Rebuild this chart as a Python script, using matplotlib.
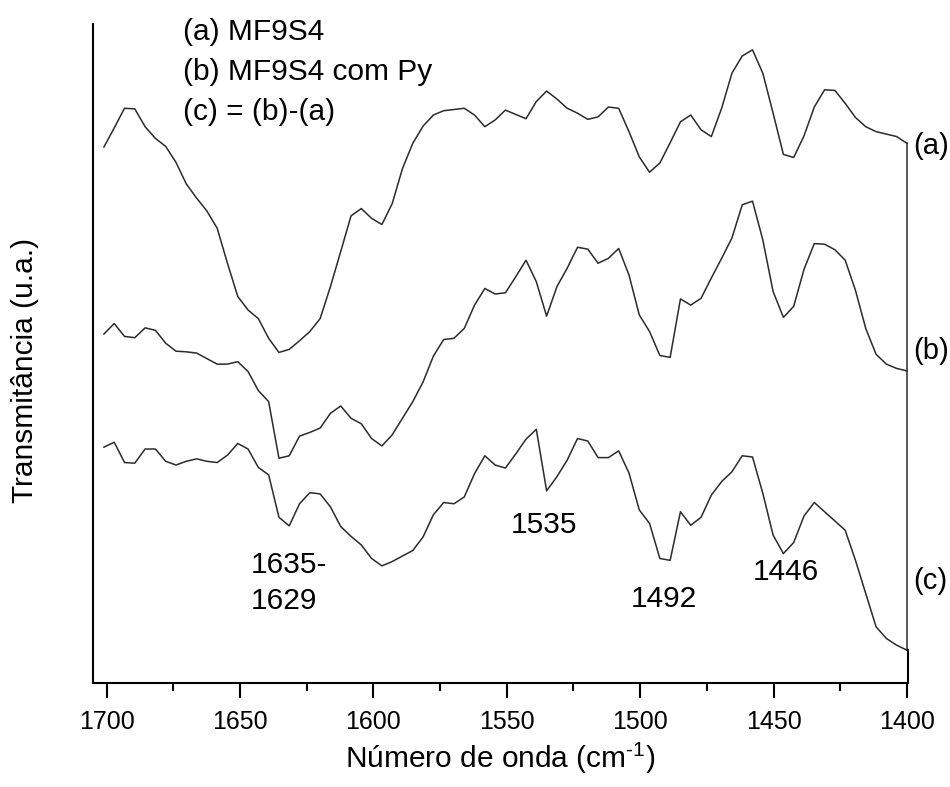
import numpy as np
import matplotlib
matplotlib.use("Agg")
import matplotlib.pyplot as plt

plt.rcParams['font.family'] = ['Liberation Sans', 'DejaVu Sans']
plt.rcParams['mathtext.fontset'] = 'custom'
plt.rcParams['mathtext.rm'] = 'Liberation Sans'
plt.rcParams['mathtext.default'] = 'regular'

# wavenumber grid of the spectra (cm-1), high to low
wn = np.linspace(1701, 1400, 79)

# (a) MF9S4
trans_a = [82.6, 85.7, 88.9, 88.8, 85.9, 84.0, 82.7, 80.1, 76.6, 74.3,
           72.2, 69.4, 63.7, 58.3, 56.1, 54.7, 51.5, 49.2, 49.7, 51.1,
           52.6, 54.7, 59.9, 65.6, 71.4, 72.6, 71.0, 70.0, 73.4, 79.1,
           83.2, 86.0, 87.8, 88.5, 88.7, 88.9, 87.8, 85.9, 87.0, 88.6,
           87.9, 87.2, 90.0, 91.7, 90.4, 88.9, 88.1, 87.1, 87.5, 89.1,
           88.9, 85.1, 81.0, 78.5, 80.0, 83.3, 86.7, 87.8, 85.4, 84.3,
           88.9, 94.6, 97.4, 98.4, 94.6, 88.1, 81.4, 80.9, 84.4, 89.1,
           91.9, 91.8, 89.7, 87.4, 85.9, 85.1, 84.7, 84.3, 83.2]

# (b) MF9S4 com Py
trans_b = [52.2, 53.9, 51.8, 51.6, 53.2, 52.8, 50.7, 49.4, 49.3, 49.1,
           48.2, 47.3, 47.3, 47.7, 46.1, 43.0, 41.2, 32.0, 32.4, 35.6,
           36.2, 36.9, 39.3, 40.5, 38.5, 37.6, 35.2, 34.0, 35.8, 38.5,
           41.2, 44.4, 48.6, 51.3, 51.5, 53.1, 56.9, 59.6, 58.7, 58.9,
           61.5, 64.2, 60.7, 55.1, 59.9, 62.9, 66.3, 66.0, 63.7, 64.5,
           66.1, 61.8, 55.3, 52.6, 48.7, 48.4, 57.9, 56.9, 58.0, 61.3,
           64.5, 67.8, 73.2, 73.8, 67.5, 59.1, 54.9, 56.7, 62.7, 66.9,
           66.8, 65.9, 64.2, 59.3, 53.1, 48.9, 47.3, 46.6, 46.2]

# (c) = (b)-(a)
trans_c = [33.8, 34.6, 31.3, 31.2, 33.5, 33.5, 31.5, 30.9, 31.5, 31.9,
           31.5, 31.3, 32.5, 34.4, 33.5, 30.5, 29.3, 22.4, 21.0, 24.6,
           26.4, 26.2, 24.1, 20.9, 19.3, 17.9, 15.7, 14.5, 15.2, 16.1,
           17.0, 19.2, 22.8, 24.8, 24.6, 25.7, 29.5, 32.4, 30.9, 30.4,
           32.7, 35.1, 36.7, 26.7, 29.0, 31.7, 35.2, 34.8, 32.1, 32.1,
           33.2, 29.6, 23.6, 21.4, 15.7, 15.4, 23.3, 21.1, 22.4, 26.0,
           28.2, 29.8, 32.4, 32.2, 26.3, 19.5, 16.5, 18.3, 22.6, 24.8,
           23.3, 21.8, 20.3, 15.4, 10.0, 4.6, 2.7, 1.6, 0.8]

legend_lines = ["(a) MF9S4", "(b) MF9S4 com Py", "(c) = (b)-(a)"]
curve_tags = ["(a)", "(b)", "(c)"]
tag_y = [82.8, 49.4, 12.0]

# band labels: text, wavenumber, height
band_text = ["1535", "1492", "1446"]
band_x = [1536.2, 1491.2, 1445.5]
band_y = [19.8, 7.8, 12.2]

fig = plt.figure(figsize=(9.5, 7.87), dpi=100)
ax = fig.add_axes([0.0976, 0.1321, 0.8582, 0.8374])

line_col = '#2b2b2b'
for tr in (trans_a, trans_b, trans_c):
    ax.plot(wn, tr, color=line_col, lw=1.1)
# closing line at the low-wavenumber end
ax.plot([wn[-1], wn[-1]], [trans_c[-1], trans_a[-1]], color=line_col, lw=1.1)

ax.set_xlim(1705.2, 1399.6)
ax.set_ylim(-4.55, 102.6)

ax.spines['top'].set_visible(False)
ax.spines['right'].set_bounds(-4.55, trans_c[-1])
for s in ('left', 'bottom', 'right'):
    ax.spines[s].set_linewidth(1.5)

ax.set_xticks(np.arange(1700, 1399, -50))
ax.set_xticks(np.arange(1675, 1400, -50), minor=True)
ax.set_yticks([])
ax.tick_params(axis='x', which='major', direction='out', length=10.5,
               width=1.5, pad=9, labelsize=18)
ax.tick_params(axis='x', which='minor', direction='out', length=5.5, width=1.5)

fig.text(500 / 950, 1 - 768 / 787, r'Número de onda (cm$^{\text{-1}}$)',
         ha='center', va='baseline', fontsize=21.5)
fig.text(25 / 950, 1 - 370 / 787, 'Transmitância (u.a.)',
         ha='center', va='center', rotation=90, fontsize=21.5)

for i, s in enumerate(legend_lines):
    fig.text(183 / 950, 1 - (40 + 40 * i) / 787, s, ha='left',
             va='baseline', fontsize=21.5)

for s, yv in zip(curve_tags, tag_y):
    ax.text(1397.6, yv, s, ha='left', va='center', fontsize=21,
            clip_on=False)

ax.text(1645.9, 11.7, '1635-\n1629', ha='left', va='center',
        fontsize=21.5, linespacing=1.35)
for s, xv, yv in zip(band_text, band_x, band_y):
    ax.text(xv, yv, s, ha='center', va='baseline', fontsize=21.5)

fig.savefig('out.png', dpi=100)
